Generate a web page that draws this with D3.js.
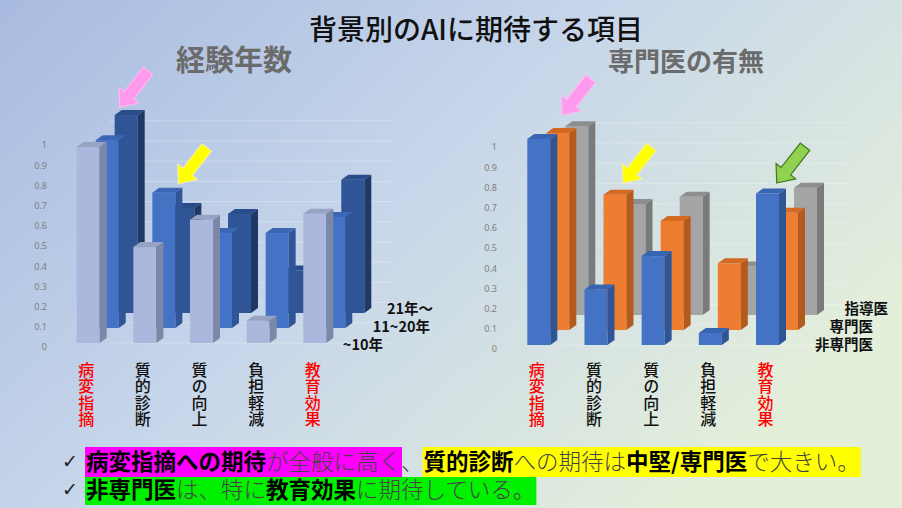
<!DOCTYPE html>
<html><head><meta charset="utf-8">
<script src="https://cdn.jsdelivr.net/npm/d3@7"></script>
<style>html,body{margin:0;padding:0;overflow:hidden;background:#fff}svg{display:block}</style>
</head><body>
<svg id="c" width="902" height="508"></svg>
<script>
// ---------- data ----------
const categories = ['病変指摘','質的診断','質の向上','負担軽減','教育効果'];
const emphasized = ['病変指摘','教育効果'];
const yTicks = [0,0.1,0.2,0.3,0.4,0.5,0.6,0.7,0.8,0.9,1];

// 経験年数 (front -> back)
const yearSeries = ['~10年','11~20年','21年～'];
const yrsUpTo10  = [0.97, 0.475, 0.61, 0.11, 0.64];
const yrs11to20  = [0.93, 0.67, 0.47, 0.47, 0.55];
const yrs21plus  = [0.98, 0.52, 0.49, 0.21, 0.66];

// 専門医の有無 (front -> back)
const specSeries = ['非専門医','専門医','指導医'];
const nonSpecialist = [1.02, 0.275, 0.44, 0.06, 0.75];
const specialist    = [0.975, 0.67, 0.54, 0.33, 0.58];
const supervisor    = [0.935, 0.55, 0.585, 0.24, 0.63];

const FONT = '"Noto Sans CJK JP","Noto Sans",sans-serif';
const svg = d3.select('#c');

// background
const defs = svg.append('defs');
const bg = defs.append('linearGradient').attr('id','bg')
  .attr('x1',0).attr('y1',0).attr('x2',1).attr('y2',0.6);
bg.append('stop').attr('offset',0).attr('stop-color','#a8bbe0');
bg.append('stop').attr('offset',0.5).attr('stop-color','#c7d6ea');
bg.append('stop').attr('offset',1).attr('stop-color','#e4efda');
svg.append('rect').attr('width',902).attr('height',508).attr('fill','url(#bg)');

// titles
svg.append('text').attr('x',476).attr('y',40).attr('text-anchor','middle')
  .attr('font-family',FONT).attr('font-size',28).attr('font-weight',500).attr('fill','#111')
  .text('背景別のAIに期待する項目');

const BW = 23, DX = 7, DY = -5, SX = 19, SY = -15, H = 202;

const charts = [
  { title:'経験年数', titleX:234, titleSize:29, range:[88.2,314.8], base:343, axisX:47,
    series:yearSeries, values:[yrsUpTo10, yrs11to20, yrs21plus],
    colors:[ {face:'#abb7dd', side:'#7d88a6', top:'#98a3c4'},
             {face:'#4472c4', side:'#2f5597', top:'#3a66b4'},
             {face:'#2f5597', side:'#1f3864', top:'#294c8a'} ],
    legend:[ {x:383,y:350}, {x:430,y:332}, {x:433,y:314} ],
    grid:[110,392],
    arrows:[ {k:2, cat:'病変指摘', dx:-18, dy:-8, fill:'#ff99ee', stroke:'#ffb8f2'},
             {k:1, cat:'質的診断', dx:3, dy:-9, fill:'#ffff00', stroke:'#f4f0a0'} ] },
  { title:'専門医の有無', titleX:686, titleSize:26, range:[538.8,767.5], base:345, axisX:497,
    series:specSeries, values:[nonSpecialist, specialist, supervisor],
    colors:[ {face:'#4472c4', side:'#2f5597', top:'#3864b4'},
             {face:'#ed7d31', side:'#b45a1c', top:'#d46a22'},
             {face:'#a5a5a5', side:'#7a7a7a', top:'#8e8e8e'} ],
    legend:[ {x:873,y:350}, {x:873,y:332}, {x:888,y:314} ],
    grid:[560,850],
    arrows:[ {k:1, cat:'病変指摘', dx:-7, dy:-18, fill:'#ff99ee', stroke:'#ffb8f2'},
             {k:1, cat:'質的診断', dx:-3.5, dy:-11.5, fill:'#ffff00', stroke:'#f4f0a0'},
             {k:0, cat:'教育効果', dx:-2.3, dy:-10.5, fill:'#92d050', stroke:'#3d7a1e'} ] }
];

charts.forEach(ch => {
  const g = svg.append('g');
  const x = d3.scalePoint().domain(categories).range(ch.range);
  const y = d3.scaleLinear().domain([0,1]).range([ch.base, ch.base - H]);

  g.append('text').attr('x',ch.titleX).attr('y',71).attr('text-anchor','middle')
    .attr('font-family',FONT).attr('font-size',ch.titleSize).attr('font-weight',700)
    .attr('fill','#6b6b6b').text(ch.title);

  // faint back-wall gridlines
  g.append('g').selectAll('line').data(yTicks.concat([1.1])).join('line')
    .attr('x1',ch.grid[0]).attr('x2',ch.grid[1])
    .attr('y1',d=>y(d)).attr('y2',d=>y(d))
    .attr('stroke','#ffffff').attr('stroke-opacity',0.28).attr('stroke-width',1);

  // axis
  const ax = g.append('g').attr('transform',`translate(${ch.axisX},4)`)
    .call(d3.axisLeft(y).tickValues(yTicks).tickSize(0).tickPadding(0).tickFormat(d3.format('~g')));
  ax.select('.domain').remove();
  ax.selectAll('text').attr('font-family','"Noto Sans",sans-serif').attr('font-size',9).attr('fill','#7f7f7f');

  // bars back -> front
  for (let k = 2; k >= 0; k--) {
    const c = ch.colors[k];
    const bars = g.append('g').selectAll('g').data(categories.map((cat,i)=>({cat, v:ch.values[k][i]}))).join('g');
    const geo = d => {
      const x0 = x(d.cat) - BW/2 + k*SX;
      const yb = y(0) + k*SY, yt = y(d.v) + k*SY;
      return {x0, yb, yt};
    };
    bars.append('rect')
      .attr('x',d=>geo(d).x0).attr('y',d=>geo(d).yt)
      .attr('width',BW).attr('height',d=>geo(d).yb-geo(d).yt).attr('fill',c.face);
    bars.append('path').attr('fill',c.side).attr('d',d=>{
      const {x0,yb,yt}=geo(d);
      return `M${x0+BW},${yt}L${x0+BW+DX},${yt+DY}L${x0+BW+DX},${yb+DY}L${x0+BW},${yb}Z`;
    });
    bars.append('path').attr('fill',c.top).attr('d',d=>{
      const {x0,yt}=geo(d);
      return `M${x0},${yt}L${x0+DX},${yt+DY}L${x0+BW+DX},${yt+DY}L${x0+BW},${yt}Z`;
    });
  }

  // category labels (vertical writing)
  g.append('g').selectAll('text').data(categories).join('text')
    .attr('x',d=>x(d)-2).attr('y',362)
    .style('writing-mode','vertical-rl').style('text-orientation','upright')
    .attr('letter-spacing',0.4)
    .attr('font-family',FONT).attr('font-size',16).attr('font-weight',500)
    .attr('fill',d=>emphasized.includes(d) ? '#ff0000' : '#111')
    .text(d=>d);

  // series (depth) labels
  ch.series.forEach((s,k)=>{
    g.append('text').attr('x',ch.legend[k].x).attr('y',ch.legend[k].y).attr('text-anchor','end')
      .attr('font-family',FONT).attr('font-size',14.5).attr('font-weight',700).attr('fill','#111').text(s);
  });

  // arrows
  ch.arrows.forEach(a=>{
    const i = categories.indexOf(a.cat);
    const v = ch.values[a.k][i];
    const tx = x(a.cat) - BW/2 + a.k*SX + BW + a.dx;
    const ty = y(v) + a.k*SY + a.dy;
    g.append('path').attr('transform',`translate(${tx},${ty}) rotate(38)`)
      .attr('d','M0,0L12.5,-15L6,-15L6,-46L-6,-46L-6,-15L-12.5,-15Z')
      .attr('fill',a.fill).attr('stroke',a.stroke).attr('stroke-width',1.2).attr('stroke-linejoin','miter');
  });
});

// ---------- bottom notes ----------
const PINK='#ff00ff', YEL='#ffff00', GRN='#00f000';
const notes = [
  { y:470, box:[447,477], segs:[
    {t:'病変指摘への期待', b:1, bg:PINK}, {t:'が全般に高く', b:0, bg:PINK}, {t:'、', b:0, bg:null},
    {t:'質的診断', b:1, bg:YEL}, {t:'への期待は', b:0, bg:YEL}, {t:'中堅/専門医', b:1, bg:YEL}, {t:'で大きい。', b:0, bg:YEL} ]},
  { y:498, box:[477,505], segs:[
    {t:'非専門医', b:1, bg:GRN}, {t:'は、特に', b:0, bg:GRN}, {t:'教育効果', b:1, bg:GRN}, {t:'に期待している。', b:0, bg:GRN} ]}
];
notes.forEach(n=>{
  svg.append('text').attr('x',62).attr('y',n.y-2).attr('font-family','"DejaVu Sans",sans-serif')
    .attr('font-size',19).attr('fill','#222').text('✓');
  const bgG = svg.append('g'), txG = svg.append('g');
  let cx = 86;
  n.segs.forEach(s=>{
    const t = txG.append('text').attr('x',cx).attr('y',n.y).attr('font-family',FONT)
      .attr('font-size',22.5).attr('font-weight',s.b?700:300).attr('fill',s.b?'#000':'#444').text(s.t);
    const w = t.node().getComputedTextLength();
    if (s.bg) bgG.append('rect').attr('x',cx-1).attr('y',n.box[0]).attr('width',w+2)
      .attr('height',n.box[1]-n.box[0]).attr('fill',s.bg);
    cx += w;
  });
});
</script>
</body></html>
